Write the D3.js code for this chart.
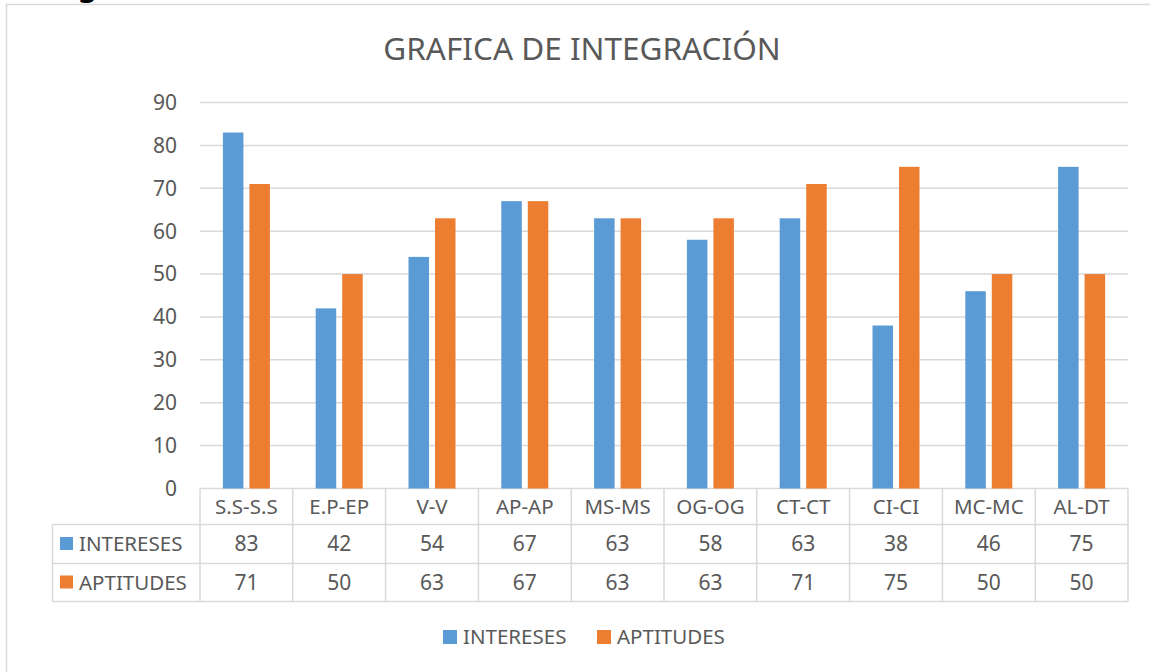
<!DOCTYPE html>
<meta charset="utf-8">
<style>
body { margin: 0; background: #fff; }
text { font-family: "Noto Sans", sans-serif; fill: #595959; }
</style>
<svg width="1150" height="672"></svg>
<script src="https://d3js.org/d3.v7.min.js"></script>
<script>
// chart data
var categories = ["S.S-S.S", "E.P-EP", "V-V", "AP-AP", "MS-MS", "OG-OG", "CT-CT", "CI-CI", "MC-MC", "AL-DT"];
var seriesNames = ["INTERESES", "APTITUDES"];
var intereses = [83, 42, 54, 67, 63, 58, 63, 38, 46, 75];
var aptitudes = [71, 50, 63, 67, 63, 63, 71, 75, 50, 50];
var yTicks = [0, 10, 20, 30, 40, 50, 60, 70, 80, 90];
var colors = ["#5B9BD5", "#ED7D31"];

var values = [intereses, aptitudes];
var svg = d3.select("svg");

// outer chart border (runs off the page right and bottom)
svg.append("rect")
    .attr("x", 6.5).attr("y", 4.5)
    .attr("width", 1200).attr("height", 700)
    .attr("fill", "none").attr("stroke", "#d9d9d9").attr("stroke-width", 1.5);

// cut off heading above the chart
svg.append("text")
    .attr("x", 78).attr("y", -4)
    .style("fill", "#000").attr("font-weight", "bold").attr("font-size", 30)
    .text("g");

svg.append("text")
    .attr("x", 582).attr("y", 60)
    .attr("text-anchor", "middle")
    .attr("font-size", 31.5)
    .text("GRAFICA DE INTEGRACIÓN");

var x0 = d3.scaleBand().domain(categories).range([200, 1128]);
var x1 = d3.scaleBand().domain(seriesNames).range([0, x0.bandwidth()])
    .paddingInner(0.226).paddingOuter(0.864);
var y = d3.scaleLinear().domain([0, 90]).range([488.5, 102.5]);

// gridlines
svg.append("g").selectAll("line")
  .data(yTicks)
  .enter().append("line")
    .attr("x1", 200).attr("x2", 1128)
    .attr("y1", function(d) { return y(d); })
    .attr("y2", function(d) { return y(d); })
    .attr("stroke", "#d9d9d9").attr("stroke-width", 1.5);

// y axis labels
svg.append("g").selectAll("text")
  .data(yTicks)
  .enter().append("text")
    .attr("x", 177)
    .attr("y", function(d) { return y(d); })
    .attr("dy", "0.35em")
    .attr("text-anchor", "end")
    .attr("font-size", 21)
    .text(function(d) { return d; });

// bars
var groups = svg.append("g").selectAll("g")
  .data(categories)
  .enter().append("g")
    .attr("transform", function(d) { return "translate(" + x0(d) + ",0)"; });

groups.selectAll("rect")
  .data(function(d, i) { return seriesNames.map(function(s, j) { return { s: s, v: values[j][i], j: j }; }); })
  .enter().append("rect")
    .attr("x", function(d) { return x1(d.s); })
    .attr("width", x1.bandwidth())
    .attr("y", function(d) { return y(d.v); })
    .attr("height", function(d) { return y(0) - y(d.v); })
    .attr("fill", function(d) { return colors[d.j]; });

// data table
var rowTop = [488.5, 524.5, 563.5, 601.5];
var tableLeft = 52.5;
var tbl = svg.append("g").attr("stroke", "#d9d9d9").attr("stroke-width", 1.5);

tbl.selectAll("line.h")
  .data(rowTop.slice(1))
  .enter().append("line")
    .attr("x1", tableLeft).attr("x2", 1128)
    .attr("y1", function(d) { return d; }).attr("y2", function(d) { return d; });

var vLines = categories.map(function(c) { return x0(c); }).concat([x0.range()[1]]);
tbl.selectAll("line.v")
  .data(vLines)
  .enter().append("line")
    .attr("x1", function(d) { return d; }).attr("x2", function(d) { return d; })
    .attr("y1", rowTop[0]).attr("y2", rowTop[3]);

tbl.append("line")
    .attr("x1", tableLeft).attr("x2", tableLeft)
    .attr("y1", rowTop[1]).attr("y2", rowTop[3]);

// header row
svg.append("g").selectAll("text")
  .data(categories)
  .enter().append("text")
    .attr("x", function(d) { return x0(d) + x0.bandwidth() / 2; })
    .attr("y", (rowTop[0] + rowTop[1]) / 2)
    .attr("dy", "0.35em")
    .attr("text-anchor", "middle")
    .attr("font-size", 20.5)
    .text(function(d) { return d; });

// value rows
seriesNames.forEach(function(s, j) {
  var cy = (rowTop[j + 1] + rowTop[j + 2]) / 2;
  var row = svg.append("g");
  row.append("rect")
      .attr("x", 60).attr("y", cy - 7)
      .attr("width", 13).attr("height", 13)
      .attr("fill", colors[j]);
  row.append("text")
      .attr("x", 79).attr("y", cy)
      .attr("dy", "0.35em")
      .attr("font-size", 20.5)
      .text(s);
  row.selectAll("text.v")
    .data(values[j])
    .enter().append("text")
      .attr("x", function(d, i) { return x0(categories[i]) + x0.bandwidth() / 2; })
      .attr("y", cy)
      .attr("dy", "0.35em")
      .attr("text-anchor", "middle")
      .attr("font-size", 21)
      .text(function(d) { return d; });
});

// legend
var legendX = [443, 597];
var legend = svg.append("g").selectAll("g")
  .data(seriesNames)
  .enter().append("g")
    .attr("transform", function(d, i) { return "translate(" + legendX[i] + ",637)"; });
legend.append("rect")
    .attr("x", 0).attr("y", -7)
    .attr("width", 14).attr("height", 14)
    .attr("fill", function(d, i) { return colors[i]; });
legend.append("text")
    .attr("x", 20).attr("dy", "0.35em")
    .attr("font-size", 20.5)
    .text(function(d) { return d; });
</script>
